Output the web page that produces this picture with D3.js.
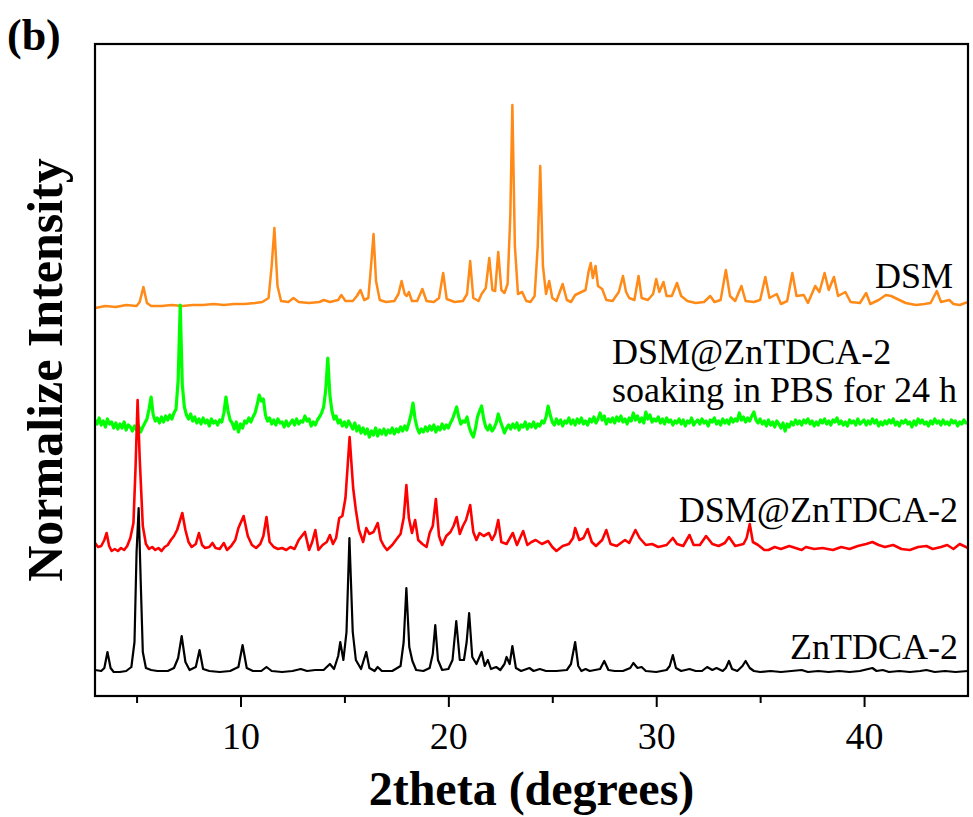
<!DOCTYPE html>
<html>
<head>
<meta charset="utf-8">
<script src="https://cdn.jsdelivr.net/npm/d3@7"></script>
<style>
  body { margin: 0; background: #fff; }
  svg { display: block; }
  text { font-family: "Liberation Serif", "Times New Roman", serif; fill: #000; }
</style>
</head>
<body>
<svg id="chart" width="973" height="817"></svg>
<script>
// ---- axis ticks ----
const xMajorTicks = [10, 20, 30, 40];
const xMinorTicks = [5, 15, 25, 35];

// ---- series meta ----
const seriesNames = ["DSM", "DSM@ZnTDCA-2 soaking in PBS for 24 h", "DSM@ZnTDCA-2", "ZnTDCA-2"];
const seriesColors = ["#ff8a17", "#00ff00", "#ff0000", "#000000"];
// vertical stacking offset of each pattern (a.u.)
const seriesOffsets = [390, 271, 148, 24];

// ---- DSM pattern: [2theta, intensity] ----
const dsmPattern = [
  [3.0,-2],[3.5,0],[4.0,-1],[4.5,1],[5.0,0],[5.15,4],[5.33,19],[5.5,3],[5.7,0],[6.2,0],[6.7,1],[7.2,0],
  [7.7,1],[8.2,1],[8.7,2],[9.2,1],[9.7,2],[10.2,2],[10.7,3],[11.05,4],[11.35,8],[11.5,40],[11.63,78],
  [11.78,20],[11.95,5],[12.3,4],[12.55,8],[12.8,4],[13.3,3],[13.8,4],[14.0,6],[14.3,4],[14.7,6],[14.85,11],
  [15.05,5],[15.4,5],[15.6,10],[15.77,16],[15.95,6],[16.15,8],[16.28,40],[16.4,72],[16.52,25],[16.7,6],
  [17.0,4],[17.4,5],[17.6,12],[17.75,25],[17.9,12],[18.0,10],[18.1,14],[18.25,5],[18.5,5],[18.75,17],
  [18.95,5],[19.3,4],[19.55,8],[19.75,33],[19.92,7],[20.3,4],[20.7,5],[20.9,12],[21.05,45],[21.2,8],
  [21.45,5],[21.6,12],[21.8,18],[21.97,48],[22.12,16],[22.25,15],[22.4,54],[22.55,16],[22.7,13],[22.85,22],
  [22.98,90],[23.08,201],[23.2,60],[23.35,12],[23.55,14],[23.75,5],[23.95,4],[24.15,10],[24.3,60],[24.42,140],
  [24.55,40],[24.7,12],[24.85,25],[25.0,8],[25.2,5],[25.5,22],[25.7,6],[25.9,4],[26.1,11],[26.3,13],
  [26.6,16],[26.75,35],[26.85,43],[26.95,28],[27.08,40],[27.2,20],[27.4,17],[27.6,6],[27.9,5],[28.2,14],
  [28.4,30],[28.55,14],[28.7,8],[28.95,6],[29.15,30],[29.3,8],[29.6,6],[29.85,12],[30.0,27],[30.15,14],
  [30.35,24],[30.5,10],[30.75,10],[31.0,23],[31.2,10],[31.5,5],[31.9,3],[32.3,4],[32.6,10],[32.8,4],
  [33.1,6],[33.35,36],[33.55,10],[33.8,5],[34.1,20],[34.3,5],[34.7,4],[35.0,6],[35.25,29],[35.45,8],
  [35.8,12],[36.0,2],[36.3,5],[36.55,33],[36.75,10],[37.1,11],[37.3,3],[37.65,20],[37.85,14],[38.1,33],
  [38.3,16],[38.55,29],[38.75,10],[39.1,14],[39.35,4],[39.8,3],[40.1,13],[40.3,2],[40.7,6],[41.05,11],
  [41.3,10],[41.6,7],[42.0,3],[42.5,1],[42.9,2],[43.2,3],[43.5,15],[43.7,4],[44.1,6],[44.3,2],[44.6,1],[45.0,4]
];

// ---- DSM@ZnTDCA-2 after 24 h in PBS: intensities on a 0.1 degree grid from 3.0 to 45.0 ----
const soakStart = 3.0;
const soakStep = 0.1;
const soakIntensity = [
  5,1,7,0,4,-2,6,1,3,-3,
  2,-4,1,-3,3,-5,0,-2,-6,-1,
  -5,-1,-7,-2,2,6,16,28,10,4,
  7,2,8,3,9,5,10,6,12,16,
  45,120,40,18,10,6,11,4,8,2,
  6,1,7,2,5,-1,6,2,4,0,
  5,3,12,28,14,5,2,-4,3,-7,
  1,-3,4,2,7,3,8,12,20,30,
  24,26,10,4,7,1,5,0,6,2,
  3,-2,4,-1,2,5,0,6,1,4,
  3,9,4,6,-1,3,0,5,8,12,
  18,35,67,30,14,6,9,2,5,-1,
  3,-2,4,0,-4,2,-6,-1,-8,-3,
  -9,-4,-12,-6,-10,-3,-11,-5,-9,-4,
  -10,-5,-8,-3,-9,-4,-7,-2,-6,-1,
  -5,2,10,22,6,-3,-8,-4,-7,-2,
  -6,-1,-5,0,-7,-2,-5,1,-4,0,
  -3,2,6,12,18,8,1,4,3,8,
  -2,-8,-12,-4,8,14,19,6,-2,-5,
  0,-6,-3,2,11,4,-2,-8,-3,0,
  -4,1,-3,2,-5,0,-2,3,-4,1,
  -2,3,-3,1,-1,4,2,8,19,10,
  3,0,6,1,5,-1,4,2,7,1,
  5,0,6,2,7,1,4,0,6,3,
  8,2,6,12,5,9,1,6,3,7,
  2,8,4,9,3,6,1,7,4,12,
  5,9,3,7,2,13,6,10,3,6,
  4,8,2,6,1,7,3,5,0,4,
  2,6,1,5,-1,4,2,7,0,3,
  5,1,6,2,4,-1,5,3,7,1,
  4,0,6,2,5,1,7,3,6,4,
  12,5,8,3,7,4,9,13,5,2,
  6,1,4,-1,5,0,3,-2,4,1,
  -3,2,-6,1,-2,3,0,5,1,4,
  0,5,2,6,1,4,-1,3,0,5,
  2,6,1,4,0,5,3,7,1,4,
  0,3,-1,5,2,4,0,6,1,3,
  5,0,4,1,6,2,5,-1,3,0,
  4,1,5,2,6,0,3,-1,4,2,
  5,1,3,-2,4,0,6,2,5,1,
  3,-1,4,1,6,2,4,0,5,1,
  3,0,5,2,4,-1,3,1,5,2,
  2
];

// ---- DSM@ZnTDCA-2 pattern ----
const loadedPattern = [
  [3.0,5],[3.15,1],[3.3,2],[3.45,8],[3.56,15],[3.68,2],[3.8,-3],[3.95,-1],[4.1,-3],[4.25,0],[4.4,-2],
  [4.55,2],[4.7,10],[4.85,25],[4.95,80],[5.05,148],[5.15,90],[5.3,22],[5.45,4],[5.6,-1],[5.75,1],[5.9,-2],
  [6.05,0],[6.2,-3],[6.35,1],[6.5,3],[6.65,8],[6.8,12],[6.95,18],[7.2,35],[7.35,18],[7.5,6],[7.65,1],
  [7.85,4],[8.0,15],[8.15,3],[8.3,0],[8.5,1],[8.65,5],[8.8,0],[9.0,-1],[9.2,5],[9.35,-2],[9.55,2],
  [9.75,8],[9.9,20],[10.15,32],[10.35,12],[10.55,3],[10.75,0],[10.95,4],[11.1,12],[11.25,31],[11.4,6],
  [11.6,1],[11.8,-1],[12.0,0],[12.2,-2],[12.4,1],[12.6,-1],[12.8,8],[13.1,16],[13.3,-2],[13.45,6],
  [13.6,18],[13.75,-2],[13.95,3],[14.15,6],[14.3,13],[14.45,4],[14.6,10],[14.75,30],[14.9,32],[15.05,50],
  [15.25,111],[15.42,60],[15.55,38],[15.7,18],[15.9,6],[16.05,20],[16.2,14],[16.4,16],[16.6,25],[16.75,8],
  [16.9,2],[17.05,-2],[17.3,3],[17.55,10],[17.7,14],[17.85,30],[17.98,63],[18.1,30],[18.25,15],[18.4,28],
  [18.55,8],[18.75,4],[18.95,1],[19.1,15],[19.25,22],[19.4,49],[19.55,12],[19.7,3],[19.9,12],[20.1,16],
  [20.25,22],[20.4,31],[20.55,14],[20.7,22],[20.85,28],[21.05,43],[21.2,16],[21.35,8],[21.5,15],[21.7,12],
  [21.95,15],[22.1,8],[22.25,14],[22.4,28],[22.55,6],[22.8,4],[23.1,15],[23.3,3],[23.6,17],[23.8,3],
  [24.0,6],[24.2,8],[24.5,4],[24.8,7],[25.0,1],[25.2,-3],[25.5,2],[25.8,4],[26.0,10],[26.1,20],[26.3,8],
  [26.5,10],[26.7,19],[26.9,6],[27.1,2],[27.4,8],[27.6,18],[27.8,4],[28.1,2],[28.5,8],[28.7,5],[29.0,18],
  [29.2,10],[29.5,3],[29.8,4],[30.1,1],[30.5,3],[30.8,10],[31.0,4],[31.3,2],[31.6,13],[31.8,3],[32.1,3],
  [32.4,12],[32.7,4],[33.0,2],[33.3,5],[33.5,11],[33.8,2],[34.2,4],[34.35,10],[34.5,24],[34.65,6],
  [34.9,3],[35.2,-2],[35.4,-2],[35.7,1],[36.0,-1],[36.4,2],[36.7,0],[37.0,-2],[37.2,1],[37.6,-1],[38.0,0],
  [38.5,-2],[38.9,1],[39.3,-1],[39.7,2],[40.1,4],[40.4,6],[40.7,3],[41.0,1],[41.4,3],[41.8,-1],[42.2,-2],
  [42.6,1],[43.0,2],[43.3,-1],[43.7,1],[44.0,3],[44.3,-1],[44.6,4],[45.0,0]
];

// ---- ZnTDCA-2 pattern ----
const mofPattern = [
  [3.0,2],[3.3,1],[3.45,4],[3.6,20],[3.75,4],[3.9,0],[4.2,0],[4.5,1],[4.75,5],[4.9,30],[5.0,120],[5.1,164],
  [5.2,90],[5.3,20],[5.45,4],[5.7,2],[6.0,1],[6.5,1],[6.8,4],[7.0,14],[7.17,36],[7.35,10],[7.55,2],[7.85,5],
  [8.03,22],[8.2,3],[8.5,1],[9.0,0],[9.5,1],[9.9,5],[10.1,27],[10.3,4],[10.6,1],[11.0,1],[11.25,5],[11.5,1],
  [12.0,0],[12.5,1],[12.9,3],[13.2,1],[13.6,2],[14.0,2],[14.3,8],[14.5,3],[14.7,16],[14.8,30],[14.95,12],
  [15.1,40],[15.24,134],[15.4,40],[15.55,12],[15.8,3],[16.05,20],[16.2,4],[16.45,1],[16.6,5],[16.8,1],
  [17.3,1],[17.7,6],[17.85,30],[17.98,84],[18.12,25],[18.27,11],[18.45,2],[18.8,1],[19.1,4],[19.25,18],
  [19.37,47],[19.5,12],[19.7,2],[20.0,3],[20.2,12],[20.38,51],[20.55,12],[20.75,12],[20.88,30],[21.0,59],
  [21.15,15],[21.35,8],[21.6,20],[21.75,6],[21.9,12],[22.05,3],[22.3,5],[22.5,2],[22.7,8],[22.8,15],
  [22.95,8],[23.08,26],[23.25,4],[23.5,1],[23.9,4],[24.1,1],[24.4,3],[24.7,1],[25.2,1],[25.7,2],[25.9,8],
  [26.1,30],[26.25,6],[26.4,1],[26.6,3],[26.8,1],[27.3,3],[27.5,11],[27.7,2],[28.0,1],[28.4,1],[28.75,4],
  [28.9,9],[29.1,4],[29.3,5],[29.5,1],[30.0,0],[30.5,2],[30.65,6],[30.8,17],[30.95,4],[31.2,1],[31.6,3],
  [31.9,1],[32.2,1],[32.45,5],[32.7,2],[32.9,4],[33.2,1],[33.35,4],[33.5,11],[33.65,3],[33.9,1],[34.15,6],
  [34.3,11],[34.5,4],[34.7,1],[35.0,0],[35.5,1],[36.0,0],[36.5,1],[37.0,2],[37.3,0],[37.8,1],[38.3,0],
  [38.8,1],[39.3,0],[39.8,1],[40.4,4],[40.6,1],[40.9,2],[41.2,0],[41.7,1],[42.2,0],[42.7,1],[43.0,2],
  [43.4,0],[43.9,1],[44.4,0],[45.0,1]
];

// build the soaked-sample pattern from its uniform angle grid
const soakPattern = soakIntensity.map((v, i) => [+(soakStart + i * soakStep).toFixed(2), v]);
const patterns = [dsmPattern, soakPattern, loadedPattern, mofPattern];

// ---- layout ----
const svg = d3.select("#chart");
const frame = { left: 95, right: 968, top: 44, bottom: 696 };

const x = d3.scaleLinear().domain([3, 45]).range([frame.left, frame.right]);
const y = d3.scaleLinear().domain([0, 652]).range([frame.bottom, frame.top]);

svg.append("defs").append("clipPath").attr("id", "plotClip")
  .append("rect")
  .attr("x", frame.left).attr("y", frame.top)
  .attr("width", frame.right - frame.left).attr("height", frame.bottom - frame.top);

// ---- patterns ----
const traces = svg.append("g").attr("clip-path", "url(#plotClip)");
const strokeWidths = [2.5, 3.2, 2.6, 2.2];
patterns.forEach((data, k) => {
  const line = d3.line()
    .x(d => x(d[0]))
    .y(d => y(d[1] + seriesOffsets[k]));
  traces.append("path")
    .datum(data)
    .attr("fill", "none")
    .attr("stroke", seriesColors[k])
    .attr("stroke-width", strokeWidths[k])
    .attr("stroke-linejoin", "round")
    .attr("d", line);
});

// ---- bottom axis ----
const axisMajor = d3.axisBottom(x).tickValues(xMajorTicks).tickSize(11).tickFormat(d3.format("d"));
const axisMinor = d3.axisBottom(x).tickValues(xMinorTicks).tickSize(7).tickFormat("");

const gMinor = svg.append("g").attr("transform", `translate(0,${frame.bottom})`).call(axisMinor);
const gMajor = svg.append("g").attr("transform", `translate(0,${frame.bottom})`).call(axisMajor);
[gMinor, gMajor].forEach(g => {
  g.select(".domain").remove();
  g.selectAll(".tick line").attr("stroke", "#000").attr("stroke-width", 2);
});
gMajor.selectAll(".tick text")
  .attr("y", 0).attr("dy", null)
  .attr("transform", "translate(0,53)")
  .style("font-family", '"Liberation Serif", "Times New Roman", serif')
  .style("font-size", "38px")
  .attr("fill", "#000");

// ---- frame ----
svg.append("rect")
  .attr("x", frame.left).attr("y", frame.top)
  .attr("width", frame.right - frame.left).attr("height", frame.bottom - frame.top)
  .attr("fill", "none").attr("stroke", "#000").attr("stroke-width", 2.2);

// ---- series labels ----
const labelStyle = sel => sel.style("font-size", "36px");
svg.append("text").attr("x", 953).attr("y", 288).attr("text-anchor", "end")
  .text(seriesNames[0]).call(labelStyle);
const soakLabel = svg.append("text").attr("x", 612).attr("y", 364).call(labelStyle);
soakLabel.append("tspan").attr("x", 612).text("DSM@ZnTDCA-2");
soakLabel.append("tspan").attr("x", 612).attr("y", 402).text("soaking in PBS for 24 h");
svg.append("text").attr("x", 958).attr("y", 522).attr("text-anchor", "end")
  .text(seriesNames[2]).call(labelStyle);
svg.append("text").attr("x", 958).attr("y", 659).attr("text-anchor", "end")
  .text(seriesNames[3]).call(labelStyle);

// ---- axis titles ----
svg.append("text")
  .attr("x", (frame.left + frame.right) / 2).attr("y", 805)
  .attr("text-anchor", "middle")
  .style("font-size", "48px").style("font-weight", "bold")
  .text("2theta (degrees)");

svg.append("text")
  .attr("transform", `translate(62,${(frame.top + frame.bottom) / 2}) rotate(-90)`)
  .attr("text-anchor", "middle")
  .style("font-size", "50px").style("font-weight", "bold")
  .text("Normalize Intensity");

// ---- panel tag ----
svg.append("text").attr("x", 7).attr("y", 50)
  .style("font-size", "44px").style("font-weight", "bold")
  .text("(b)");
</script>
</body>
</html>
